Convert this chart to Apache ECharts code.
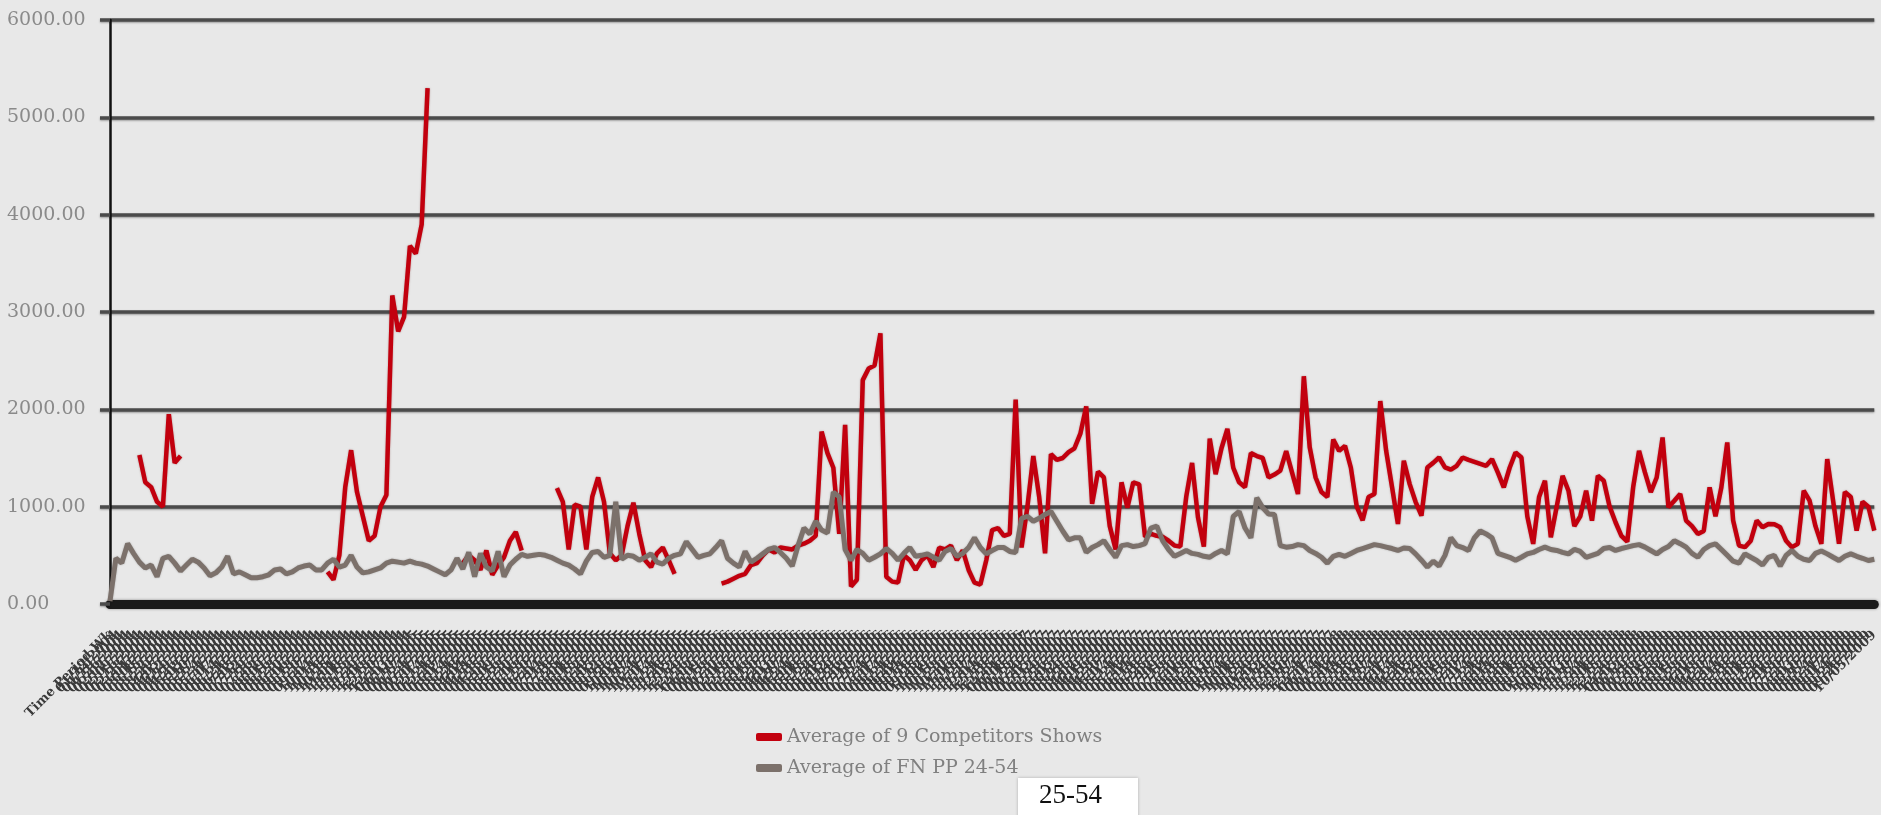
<!DOCTYPE html>
<html>
<head>
<meta charset="utf-8">
<script src="https://cdn.jsdelivr.net/npm/echarts@6/dist/echarts.min.js"></script>
<style>
html,body{margin:0;padding:0;background:#e8e8e8;}
#chart{width:1881px;height:815px;}
</style>
</head>
<body>
<div id="chart"></div>
<script>
// ---- data ----
const seriesNames = ['Average of 9 Competitors Shows', 'Average of FN PP 24-54'];
const yTicks = [0, 1000, 2000, 3000, 4000, 5000, 6000];
const firstCategory = 'Time Period Wk';

const competitors = [
  null,null,null,null,null,1530,1250,1200,1050,1000,
  1950,1450,1520,null,null,null,null,null,null,null,
  null,null,null,null,null,null,null,null,null,null,
  null,null,null,null,null,null,null,330,250,500,
  1200,1580,1150,900,650,700,1000,1120,3170,2800,
  2950,3680,3600,3900,5300,null,null,null,null,null,
  420,500,450,350,550,300,400,480,650,740,
  550,null,null,null,null,null,1190,1050,560,1020,
  1000,560,1100,1300,1050,520,450,500,800,1040,
  720,450,380,520,580,450,310,null,null,null,
  null,null,null,null,210,230,260,290,310,400,
  420,500,560,530,580,570,560,600,620,650,
  700,1770,1550,1400,720,1840,180,250,2300,2420,
  2450,2780,280,230,220,500,450,350,450,500,
  380,580,560,600,450,550,350,220,200,450,
  760,780,700,720,2100,580,1000,1520,1100,520,
  1540,1480,1500,1560,1600,1750,2030,1030,1360,1300,
  800,560,1250,990,1250,1230,690,720,700,690,
  650,600,590,1100,1450,890,590,1700,1334,1600,
  1800,1400,1250,1200,1550,1520,1500,1300,1330,1370,
  1570,1350,1130,2340,1610,1300,1150,1100,1690,1573,
  1625,1400,1000,860,1100,1130,2085,1573,1200,822,
  1471,1232,1050,908,1403,1450,1505,1403,1380,1420,
  1505,1480,1460,1440,1420,1488,1350,1198,1400,1556,
  1505,900,618,1100,1266,686,1000,1317,1164,800,
  900,1164,857,1317,1266,1000,840,700,640,1200,
  1573,1352,1150,1300,1710,993,1060,1130,857,800,
  720,750,1198,900,1200,1659,857,600,584,650,
  857,788,822,820,788,650,584,618,1164,1061,
  800,618,1488,1061,620,1150,1100,754,1050,1000,
  754
];

const fnpp = [
  30,470,420,620,520,430,370,400,280,470,
  490,420,340,400,460,430,370,290,320,380,
  490,310,330,300,270,270,280,300,350,360,
  310,330,370,390,400,350,350,420,460,380,
  400,500,380,320,330,350,370,420,440,430,
  420,440,420,410,390,360,330,300,350,470,
  360,530,280,520,380,340,540,280,400,460,
  510,490,500,510,500,480,450,420,400,360,
  310,440,530,540,480,500,1050,460,500,490,
  450,480,515,430,410,470,500,515,640,560,
  480,500,515,580,650,470,420,380,540,430,
  470,515,560,580,530,470,390,600,780,720,
  850,760,730,1150,1100,560,450,560,520,450,
  480,515,570,520,450,520,580,490,500,515,
  480,450,540,570,490,520,580,680,580,515,
  550,580,580,540,530,880,900,850,880,920,
  950,850,750,660,680,680,530,580,610,650,
  560,480,600,610,590,600,620,780,800,650,
  560,490,520,550,520,510,490,480,520,550,
  515,900,950,780,680,1090,990,925,920,600,
  584,590,610,600,550,520,480,420,490,510,
  490,520,550,570,590,610,600,585,570,550,
  575,570,515,450,380,440,390,500,680,600,
  580,550,680,750,720,680,520,500,480,450,
  480,515,530,560,584,560,550,530,515,560,
  540,480,500,520,570,580,550,570,584,600,
  610,584,550,515,560,590,650,620,584,520,
  480,560,600,618,560,500,440,420,515,480,
  447,400,480,500,390,500,550,490,460,447,
  520,545,515,480,447,490,515,490,470,447,
  460
];

// category labels (illegible in the reference: dense weekly date stamps)
const categories = [firstCategory];
(function(){
  const d = new Date(Date.UTC(2004, 0, 5));
  for (let i = 1; i < fnpp.length; i++) {
    d.setUTCDate(d.getUTCDate() + 7);
    const mm = String(d.getUTCMonth() + 1).padStart(2, '0');
    const dd = String(d.getUTCDate()).padStart(2, '0');
    categories.push(mm + '/' + dd + '/' + d.getUTCFullYear());
  }
})();

const chart = echarts.init(document.getElementById('chart'), null, {renderer: 'canvas'});
const gridLine = {color: '#4b4b4b', width: 3.5, shadowColor: 'rgba(0,0,0,0.35)', shadowBlur: 2, shadowOffsetY: 1};

chart.setOption({
  backgroundColor: '#e8e8e8',
  animation: false,
  grid: {left: 110, right: 0, top: 20, bottom: 211, containLabel: false},
  legend: {
    orient: 'vertical',
    left: 751,
    top: 722,
    itemWidth: 26,
    itemHeight: 8,
    itemGap: 11,
    icon: 'roundRect',
    textStyle: {fontFamily: 'DejaVu Serif', fontSize: 19, color: '#808080', lineHeight: 20},
    data: seriesNames
  },
  xAxis: {
    type: 'category',
    data: categories,
    boundaryGap: false,
    axisLine: {show: true, onZero: true, lineStyle: {color: '#1a1a1a', width: 9, shadowColor: 'rgba(0,0,0,0.4)', shadowBlur: 3}},
    axisTick: {show: false},
    axisLabel: {
      interval: 0,
      rotate: 45,
      margin: 29,
      fontFamily: 'DejaVu Serif',
      fontSize: 13,
      fontWeight: 'bold',
      color: '#3a3a3a'
    },
    splitLine: {show: false}
  },
  yAxis: {
    type: 'value',
    min: yTicks[0],
    max: yTicks[yTicks.length - 1],
    interval: 1000,
    axisLine: {show: true, lineStyle: {color: '#111', width: 2.5}},
    axisTick: {show: true, length: 10, lineStyle: gridLine},
    axisLabel: {
      formatter: v => v.toFixed(2),
      align: 'left',
      margin: 103,
      fontFamily: 'DejaVu Serif',
      fontSize: 19,
      color: '#8a8a8a'
    },
    splitLine: {show: true, lineStyle: gridLine}
  },
  series: [
    {
      name: seriesNames[0],
      type: 'line',
      data: competitors,
      showSymbol: false,
      connectNulls: false,
      color: '#c2000e',
      lineStyle: {color: '#c2000e', width: 4.5, shadowColor: 'rgba(90,0,0,0.35)', shadowBlur: 2},
      z: 3
    },
    {
      name: seriesNames[1],
      type: 'line',
      data: fnpp,
      showSymbol: false,
      color: '#7c716b',
      lineStyle: {color: '#7c716b', width: 5, shadowColor: 'rgba(0,0,0,0.25)', shadowBlur: 2},
      z: 4
    }
  ],
  graphic: [
    {
      type: 'rect',
      left: 1018,
      top: 778,
      shape: {width: 120, height: 40},
      style: {fill: '#ffffff', shadowColor: 'rgba(0,0,0,0.25)', shadowBlur: 3},
      z: 100
    },
    {
      type: 'text',
      left: 1039,
      top: 782,
      style: {text: '25-54', fontFamily: 'Liberation Serif', fontSize: 27, fill: '#111'},
      z: 101
    }
  ]
});
</script>
</body>
</html>
